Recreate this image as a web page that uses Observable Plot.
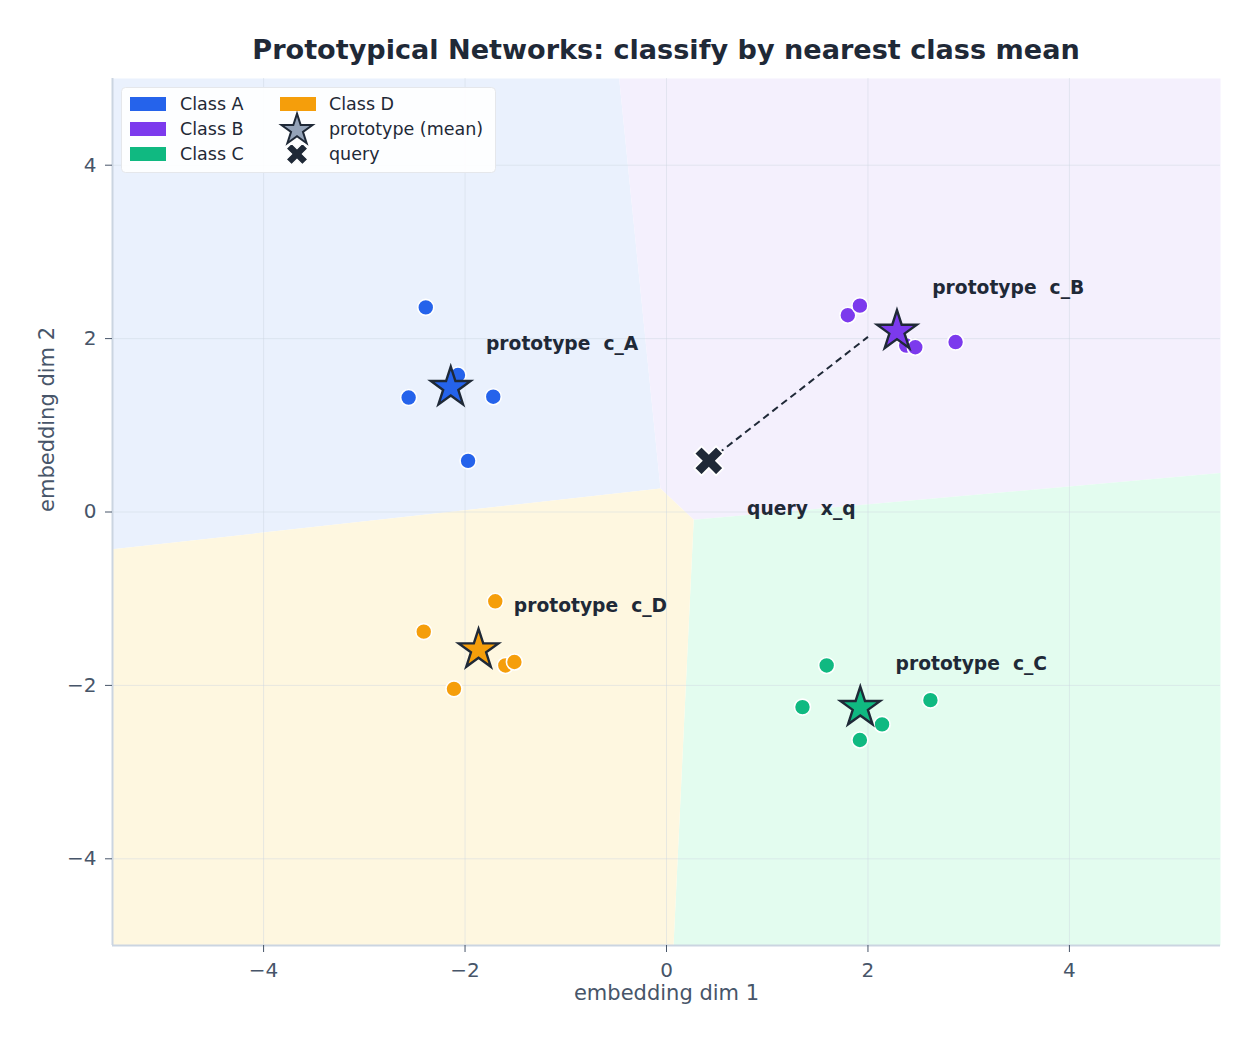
<!DOCTYPE html>
<html>
<head>
<meta charset="utf-8">
<script src="https://cdn.jsdelivr.net/npm/d3@7"></script>
<script src="https://cdn.jsdelivr.net/npm/@observablehq/plot@0.6"></script>
<style>
  html, body { margin: 0; padding: 0; background: #fff; }
  #wrap { position: relative; width: 1256px; height: 1047px; font-family: "DejaVu Sans", sans-serif; }
  #title { position: absolute; top: 33px; left: 666px; transform: translateX(-50%); white-space: nowrap;
           font-size: 27.1px; font-weight: bold; color: #1f2937; line-height: 34px; }
  #chart { position: absolute; top: 60px; left: 0; }
  #legend { position: absolute; left: 0; top: 0; }
  svg text { white-space: pre; }
</style>
</head>
<body>
<div id="wrap">
  <div id="title">Prototypical Networks: classify by nearest class mean</div>
  <div id="chart"></div>
  <svg id="legend" width="1256" height="200"></svg>
</div>
<script>
// ---- data ----
const classNames = ["A", "B", "C", "D"];
const classColors = ["#2563eb", "#7c3aed", "#10b981", "#f59e0b"];
const regionColors = ["#eaf1fd", "#f4f0fd", "#e3fcef", "#fef7e0"];

const classA = [[-2.39, 2.36], [-2.56, 1.32], [-2.07, 1.58], [-1.72, 1.33], [-1.97, 0.59]];
const classB = [[1.80, 2.27], [1.92, 2.38], [2.38, 1.92], [2.47, 1.90], [2.87, 1.96]];
const classC = [[1.59, -1.77], [1.35, -2.25], [1.92, -2.63], [2.14, -2.45], [2.62, -2.17]];
const classD = [[-1.70, -1.03], [-2.41, -1.38], [-2.11, -2.04], [-1.60, -1.77], [-1.51, -1.73]];

const queryPoint = [0.42, 0.59];
const queryLinkEnd = [2.0, 2.02];

// decision-region boundaries (vertices)
const regionA = [[-5.5, 5], [-0.47, 5], [-0.06, 0.27], [-5.5, -0.43]];
const regionB = [[-0.47, 5], [5.5, 5], [5.5, 0.45], [0.27, -0.09], [-0.06, 0.27]];
const regionC = [[0.27, -0.09], [5.5, 0.45], [5.5, -5], [0.07, -5]];
const regionD = [[-5.5, -0.43], [-0.06, 0.27], [0.27, -0.09], [0.07, -5], [-5.5, -5]];

const xTicks = [-4, -2, 0, 2, 4];
const yTicks = [-4, -2, 0, 2, 4];

// ---- derived tables ----
const classPoints = [classA, classB, classC, classD];
const points = classPoints.flatMap((pts, i) => pts.map(([x, y]) => ({x, y, c: classNames[i], color: classColors[i]})));
const prototypes = classPoints.map((pts, i) => ({
  c: classNames[i], color: classColors[i],
  x: d3.mean(pts, d => d[0]), y: d3.mean(pts, d => d[1])
}));
const regions = [regionA, regionB, regionC, regionD];

const dark = "#1f2937";
const axisColor = "#475569";
const fmt = d => (d < 0 ? "\u2212" + Math.abs(d) : String(d));

const regionMarks = regions.map((poly, i) =>
  Plot.line(poly.concat([poly[0]]), {x: d => d[0], y: d => d[1], fill: regionColors[i], stroke: "none", curve: "linear"})
);

const chart = Plot.plot({
  width: 1256, height: 987,
  marginTop: 18, marginLeft: 112, marginRight: 36, marginBottom: 102,
  style: {fontFamily: "DejaVu Sans", fontSize: "20px", color: axisColor, background: "transparent"},
  color: {type: "identity"},
  x: {domain: [-5.5, 5.5], label: null},
  y: {domain: [-5, 5], label: null},
  marks: [
    ...regionMarks,
    Plot.gridX(xTicks, {stroke: "#cbd5e1", strokeOpacity: 0.45, strokeWidth: 1}),
    Plot.gridY(yTicks, {stroke: "#cbd5e1", strokeOpacity: 0.45, strokeWidth: 1}),
    Plot.ruleX([-5.5], {stroke: "#cbd5e1", strokeWidth: 2}),
    Plot.ruleY([-5], {stroke: "#cbd5e1", strokeWidth: 2}),
    Plot.axisX(xTicks, {tickSize: 7, tickPadding: 10, stroke: axisColor, fill: axisColor, fontSize: 20, tickFormat: fmt, label: null}),
    Plot.axisY(yTicks, {tickSize: 7, tickPadding: 9, stroke: axisColor, fill: axisColor, fontSize: 20, tickFormat: fmt, label: null}),
    Plot.text(["embedding dim 1"], {frameAnchor: "bottom", dy: 54, text: d => d, fontSize: 21, fill: axisColor}),
    Plot.text(["embedding dim 2"], {frameAnchor: "left", dx: -65, rotate: -90, text: d => d, fontSize: 21, fill: axisColor}),
    Plot.link([{x1: queryPoint[0], y1: queryPoint[1], x2: queryLinkEnd[0], y2: queryLinkEnd[1]}],
      {x1: "x1", y1: "y1", x2: "x2", y2: "y2", stroke: dark, strokeWidth: 2, strokeDasharray: "7,4.5"}),
    Plot.dot(points, {x: "x", y: "y", r: 8, fill: "color", stroke: "white", strokeWidth: 1.6}),
    Plot.dot(prototypes, {x: "x", y: "y", symbol: "star", r: 12.5, fill: "color", stroke: dark, strokeWidth: 2.4}),
    Plot.dot([queryPoint], {x: d => d[0], y: d => d[1], symbol: "cross", rotate: 45, r: 13, fill: dark, stroke: "white", strokeWidth: 1.8}),
    Plot.text(prototypes, {x: d => d.x + 0.35, y: d => d.y + 0.5, text: d => `prototype  c_${d.c}`,
      textAnchor: "start", fontWeight: "bold", fontSize: 18.7, fill: dark}),
    Plot.text([queryPoint], {x: d => d[0] + 0.38, y: d => d[1] - 0.56, text: () => "query  x_q",
      textAnchor: "start", fontWeight: "bold", fontSize: 18.7, fill: dark})
  ]
});
document.getElementById("chart").appendChild(chart);

// ---- legend (overlay inside the plot frame) ----
const legendItems = [
  {label: "Class A", kind: "patch", color: classColors[0], col: 0, row: 0},
  {label: "Class B", kind: "patch", color: classColors[1], col: 0, row: 1},
  {label: "Class C", kind: "patch", color: classColors[2], col: 0, row: 2},
  {label: "Class D", kind: "patch", color: classColors[3], col: 1, row: 0},
  {label: "prototype (mean)", kind: "star", color: "#94a3b8", col: 1, row: 1},
  {label: "query", kind: "x", color: dark, col: 1, row: 2}
];
const lg = d3.select("#legend");
lg.append("rect").attr("x", 121.5).attr("y", 87.5).attr("width", 374).attr("height", 85).attr("rx", 4)
  .attr("fill", "white").attr("fill-opacity", 0.9).attr("stroke", "#e5e7eb").attr("stroke-width", 1);
const colX = [130, 280], textX = [180, 329], rowY = [104, 129, 154];
for (const it of legendItems) {
  const cx = colX[it.col], cy = rowY[it.row];
  if (it.kind === "patch") {
    lg.append("rect").attr("x", cx).attr("y", cy - 7).attr("width", 36).attr("height", 14).attr("fill", it.color);
  } else if (it.kind === "star") {
    lg.append("path").attr("d", d3.symbol(d3.symbolStar, 300)()).attr("transform", `translate(${cx + 17},${cy + 1})`)
      .attr("fill", it.color).attr("stroke", dark).attr("stroke-width", 2);
  } else {
    lg.append("path").attr("d", d3.symbol(d3.symbolCross, 290)()).attr("transform", `translate(${cx + 17},${cy}) rotate(45)`)
      .attr("fill", it.color).attr("stroke", "white").attr("stroke-width", 1.2);
  }
  lg.append("text").attr("x", textX[it.col]).attr("y", cy).attr("dy", "0.35em")
    .attr("font-family", "DejaVu Sans").attr("font-size", 17.5).attr("fill", dark).text(it.label);
}
</script>
</body>
</html>
